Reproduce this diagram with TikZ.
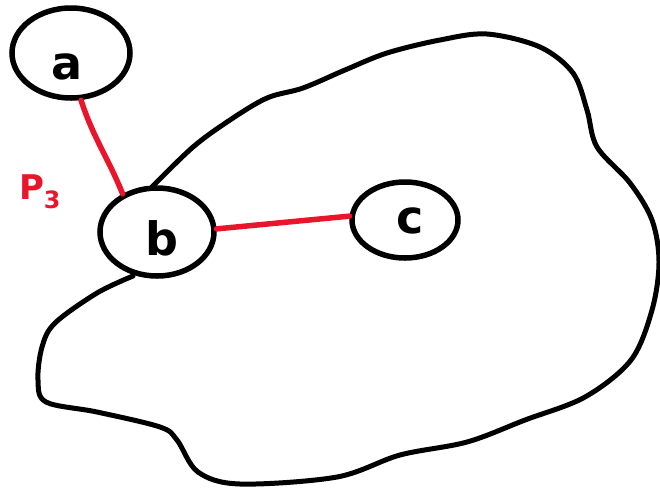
\documentclass[tikz,border=0pt]{standalone}
\usepackage{fontspec}
\setmainfont{DejaVu Sans}
\usetikzlibrary{shapes.geometric}
\definecolor{penred}{RGB}{232,21,43}
\newcommand{\letterat}[3]{\raisebox{#2}[0pt][0pt]{\makebox[0pt]{\hspace*{#1}#3}}}
\tikzset{
  vert/.style={draw=black, ellipse, line width=5.5pt, inner sep=0pt, font=\fontsize{46}{46}\selectfont\bfseries},
  edge/.style={draw=penred, line width=5.5pt, line cap=round},
  blob/.style={draw=black, line width=5pt, line cap=round, line join=round}
}
\begin{document}
\begin{tikzpicture}[x=1pt,y=-1pt]
\useasboundingbox (0,0) rectangle (660,488);
\node[vert, minimum width=118pt, minimum height=90pt] (a) at (71,53) {\letterat{-8pt}{-26pt}{a}};
\node[vert, minimum width=114pt, minimum height=88pt] (b) at (157,232) {\letterat{10pt}{-23pt}{b}};
\node[vert, minimum width=106pt, minimum height=76pt] (c) at (405,220) {\letterat{10pt}{-13pt}{c}};
\node[text=penred, font=\fontsize{34}{34}\selectfont\bfseries] (p) at (40,192) {P$_{\mathbf 3}$};
\draw[edge] (a.-78) to[out=-72,in=112] (b.132);
\draw[edge] (b.3) -- (c.176);
\draw[blob] plot[smooth, tension=0.55] coordinates {
  (152,187) (193,147) (230,120) (267,98) (303,88) (345,70) (387,53) (440,40) (487,34)
  (540,47) (573,73) (587,110) (597,147) (630,183) (652,220) (659,262) (652,310)
  (631,360) (585,397) (525,420) (467,442) (400,455) (337,477) (240,484) (198,472)
  (177,440) (160,427) (97,412) (46,402) (38,380) (42,347) (55,323) (97,293) (133,276)};
\end{tikzpicture}
\end{document}
